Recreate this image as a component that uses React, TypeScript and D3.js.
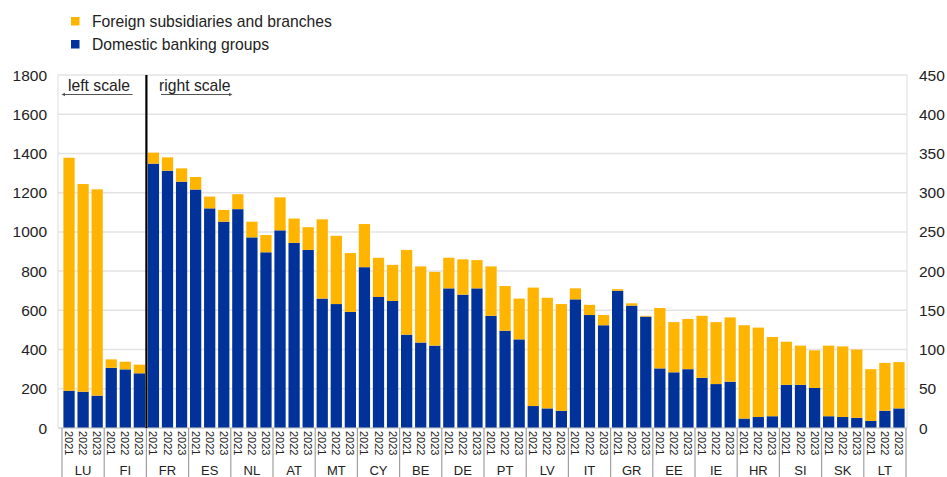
import React from "react";
import * as d3 from "d3";

const countries = ["LU", "FI", "FR", "ES", "NL", "AT", "MT", "CY", "BE", "DE", "PT", "LV", "IT", "GR", "EE", "IE", "HR", "SI", "SK", "LT"];
const leftScaleCountries = ["LU", "FI"];
const years = ["2021", "2022", "2023"];
// Domestic banking groups (LU, FI on left scale; others on right scale)
const domestic = [
  [190, 185, 165], [307, 299, 279], [337, 328, 314], [304, 280, 263], [279, 243, 224],
  [252, 236, 227], [165, 158, 148], [205, 167, 162], [119, 109, 105], [178, 170, 178],
  [143, 124, 113], [28, 25, 22], [164, 144, 131], [175, 156, 142], [76, 71, 75],
  [64, 56, 59], [12, 14, 15], [55, 55, 51], [15, 14, 13], [9, 22, 25],
];
// Foreign subsidiaries and branches
const foreign = [
  [1188, 1059, 1052], [43, 39, 44], [14, 17, 17], [16, 15, 15], [19, 20, 22],
  [42, 31, 29], [101, 87, 75], [55, 50, 46], [108, 97, 94], [39, 45, 36],
  [63, 57, 52], [151, 141, 136], [14, 13, 13], [2, 3, 1], [77, 64, 64],
  [79, 79, 82], [119, 114, 101], [55, 50, 48], [90, 90, 87], [66, 61, 59],
];
const leftTicks = [0, 200, 400, 600, 800, 1000, 1200, 1400, 1600, 1800];
const rightTicks = [0, 50, 100, 150, 200, 250, 300, 350, 400, 450];
const seriesNames = ["Foreign subsidiaries and branches", "Domestic banking groups"];

const YELLOW = "#FFB400";
const BLUE = "#003299";
const FONT = "Arial, 'Liberation Sans', Helvetica, sans-serif";

export default function App() {
  const W = 947, H = 477;
  const frameL = 58, frameR = 907;
  const x0 = 62, x1 = 906;
  const yTop = 75, yBot = 428;

  const keys: string[] = [];
  countries.forEach((c) => years.forEach((y) => keys.push(c + "-" + y)));
  const x = d3.scaleBand<string>().domain(keys).range([x0, x1]).paddingInner(0.2).paddingOuter(0.1);
  const yL = d3.scaleLinear().domain([0, 1800]).range([yBot, yTop]);
  const yR = d3.scaleLinear().domain([0, 450]).range([yBot, yTop]);
  const groupW = (x1 - x0) / countries.length;

  const bars: React.ReactNode[] = [];
  countries.forEach((c, ci) => {
    const ys = leftScaleCountries.includes(c) ? yL : yR;
    years.forEach((yr, yi) => {
      const k = c + "-" + yr;
      const d = domestic[ci][yi];
      const f = foreign[ci][yi];
      const bx = x(k)!;
      bars.push(
        <rect key={k + "d"} x={bx} width={x.bandwidth()} y={ys(d)} height={ys(0) - ys(d)} fill={BLUE} />
      );
      bars.push(
        <rect key={k + "f"} x={bx} width={x.bandwidth()} y={ys(d + f)} height={ys(d) - ys(d + f)} fill={YELLOW} />
      );
    });
  });

  const dividerX = x0 + groupW * leftScaleCountries.length;

  return (
    <svg width={W} height={H} style={{ display: "block", position: "absolute", left: 0, top: 0 }} fontFamily={FONT}>
      <rect width={W} height={H} fill="#fff" />
      {/* legend */}
      <rect x={71} y={17} width={8.5} height={8.5} fill={YELLOW} />
      <text x={92} y={26.5} fontSize={15.7} fill="#222">{seriesNames[0]}</text>
      <rect x={71} y={40} width={8.5} height={8.5} fill={BLUE} />
      <text x={92} y={49.5} fontSize={15.7} fill="#222">{seriesNames[1]}</text>

      {/* gridlines */}
      {leftTicks.map((t) => (
        <line key={"g" + t} x1={frameL} x2={frameR} y1={yL(t)} y2={yL(t)} stroke="#e3e3e3" strokeWidth={1.5} />
      ))}
      <line x1={frameL} x2={frameL} y1={yTop} y2={yBot} stroke="#e3e3e3" strokeWidth={1.2} />
      <line x1={frameR} x2={frameR} y1={yTop} y2={yBot} stroke="#e3e3e3" strokeWidth={1.2} />

      {/* tick labels */}
      {leftTicks.map((t) => (
        <text key={"l" + t} x={47} y={yL(t) + 5.5} fontSize={15.5} textAnchor="end" fill="#222">{t}</text>
      ))}
      {rightTicks.map((t) => (
        <text key={"r" + t} x={919} y={yR(t) + 5.5} fontSize={15.5} textAnchor="start" fill="#222">{t}</text>
      ))}

      {bars}

      {/* x axis line */}
      <line x1={frameL} x2={frameR} y1={yBot} y2={yBot} stroke="#cfcfcf" strokeWidth={1} />

      {/* divider */}
      <line x1={dividerX} x2={dividerX} y1={yTop} y2={yBot} stroke="#000" strokeWidth={2.2} />

      {/* scale annotations */}
      <text x={68} y={91} fontSize={15.7} fill="#222">left scale</text>
      <line x1={63} x2={132.5} y1={94.5} y2={94.5} stroke="#555" strokeWidth={1.2} />
      <path d="M61.5,94.5 L65,92.8 L65,96.2 Z" fill="#555" />
      <text x={159} y={91} fontSize={15.7} fill="#222">right scale</text>
      <line x1={161} x2={231} y1={94.5} y2={94.5} stroke="#555" strokeWidth={1.2} />
      <path d="M232.5,94.5 L229,92.8 L229,96.2 Z" fill="#555" />

      {/* year labels */}
      {countries.map((c) =>
        years.map((yr) => {
          const k = c + "-" + yr;
          const cx = x(k)! + x.bandwidth() / 2;
          return (
            <text key={"y" + k} transform={`translate(${cx - 4},${431}) rotate(90)`} fontSize={11} fill="#222">{yr}</text>
          );
        })
      )}

      {/* group separators */}
      {d3.range(countries.length + 1).map((i) => (
        <line key={"s" + i} x1={x0 + groupW * i} x2={x0 + groupW * i} y1={yBot} y2={H} stroke="#a0a0a0" strokeWidth={1.2} />
      ))}

      {/* country labels */}
      {countries.map((c, i) => (
        <text key={"c" + c} x={x0 + groupW * (i + 0.5)} y={475} fontSize={13} textAnchor="middle" fill="#222">{c}</text>
      ))}
    </svg>
  );
}
